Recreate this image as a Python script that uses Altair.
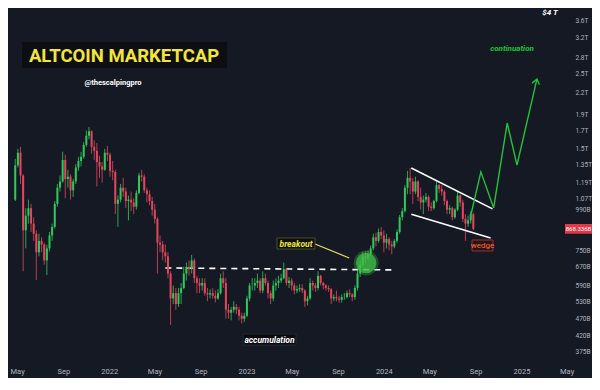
import altair as alt
import pandas as pd

# ---------------- data (weekly candles, values in billions USD) ----------------
first_open = 1060
close = [1340, 1460, 1250, 860, 950, 1000, 900, 840, 740, 800,
         780, 700, 760, 830, 880, 1030, 1150, 1200, 1390, 1220,
         1240, 1130, 1200, 1320, 1380, 1420, 1540, 1640, 1690, 1520,
         1480, 1370, 1330, 1300, 1460, 1440, 1290, 1280, 1030, 1060,
         1150, 1120, 1050, 1060, 1040, 1010, 1110, 1250, 1240, 1130,
         1100, 1050, 990, 930, 790, 780, 740, 720, 640, 540,
         560, 520, 560, 580, 640, 670, 660, 700, 620, 600,
         590, 600, 560, 555, 560, 550, 540, 560, 620, 600,
         500, 490, 500, 510, 500, 480, 470, 480, 540, 590,
         590, 600, 610, 570, 620, 600, 560, 540, 590, 600,
         610, 620, 660, 600, 610, 590, 570, 575, 580, 570,
         530, 540, 600, 590, 580, 630, 600, 590, 580, 575,
         540, 545, 540, 535, 545, 545, 560, 555, 545, 580,
         640, 680, 720, 710, 730, 760, 820, 800, 850, 830,
         790, 810, 780, 770, 800, 850, 940, 980, 1150, 1230,
         1200, 1120, 1200, 1080, 1040, 1060, 1080, 1010, 1000, 1050,
         1170, 1140, 1120, 1050, 990, 1000, 940, 990, 1090, 1040,
         930, 900, 920, 960, 868.336]
high = [1400, 1500, 1520, 1260, 1000, 1060, 1030, 940, 860, 840,
        820, 790, 780, 850, 900, 1050, 1180, 1250, 1470, 1440,
        1300, 1260, 1220, 1350, 1420, 1470, 1570, 1700, 1740, 1700,
        1590, 1560, 1430, 1370, 1500, 1530, 1460, 1380, 1300, 1090,
        1180, 1230, 1150, 1090, 1120, 1070, 1130, 1270, 1300, 1260,
        1150, 1130, 1080, 1030, 940, 830, 800, 780, 740, 650,
        590, 580, 580, 600, 670, 690, 700, 727, 710, 630,
        620, 620, 620, 580, 575, 580, 570, 575, 640, 650,
        620, 520, 510, 530, 520, 510, 490, 490, 550, 600,
        620, 620, 640, 620, 650, 640, 610, 570, 610, 620,
        630, 640, 690, 665, 625, 620, 600, 590, 595, 595,
        575, 550, 620, 610, 600, 650, 635, 605, 595, 590,
        580, 555, 570, 550, 555, 560, 570, 575, 560, 590,
        655, 700, 740, 745, 750, 775, 840, 845, 870, 880,
        860, 840, 820, 800, 810, 865, 955, 1000, 1170, 1290,
        1315, 1230, 1240, 1210, 1150, 1090, 1110, 1090, 1040, 1060,
        1200, 1180, 1170, 1130, 1060, 1020, 1010, 1000, 1120, 1100,
        1060, 960, 950, 980, 970]
low = [1050, 1320, 1180, 650, 760, 900, 850, 800, 613, 720,
       740, 680, 634, 745, 800, 870, 1010, 1120, 1190, 1070,
       1150, 1060, 1080, 1180, 1290, 1330, 1400, 1520, 1600, 1450,
       1390, 1160, 1230, 1190, 1290, 1380, 1240, 1210, 960, 880,
       1040, 1080, 1000, 920, 980, 960, 990, 1100, 1200, 1110,
       1040, 1020, 950, 900, 640, 740, 700, 690, 620, 451,
       520, 500, 510, 520, 575, 610, 630, 640, 600, 560,
       560, 570, 550, 530, 540, 540, 525, 535, 555, 580,
       470, 470, 465, 490, 485, 465, 455, 460, 475, 530,
       570, 570, 580, 560, 560, 590, 540, 520, 530, 570,
       580, 600, 615, 590, 580, 570, 555, 560, 565, 560,
       510, 515, 535, 570, 565, 570, 590, 575, 570, 565,
       520, 530, 530, 525, 525, 535, 540, 545, 530, 535,
       570, 625, 670, 690, 700, 720, 750, 770, 790, 810,
       740, 760, 750, 730, 760, 790, 840, 920, 970, 1100,
       1100, 1030, 1100, 1050, 990, 960, 1040, 980, 980, 990,
       1040, 1110, 1090, 1020, 960, 960, 920, 930, 980, 1010,
       910, 800, 880, 900, 860]

y_ticks = [3600, 3200, 2800, 2500, 2200, 1900, 1700, 1500, 1350, 1190,
           1070, 990, 750, 670, 590, 530, 470, 420, 375]
x_ticks = ["2021-05-01", "2021-09-01", "2022-01-01", "2022-05-01", "2022-09-01",
           "2023-01-01", "2023-05-01", "2023-09-01", "2024-01-01", "2024-05-01",
           "2024-09-01", "2025-01-01", "2025-05-01"]
last_price = 868.336

support_dates = ["2022-05-30", "2024-01-30"]
support_vals = [665, 656]
wedge_up_dates = ["2024-03-14", "2024-10-16"]
wedge_up_vals = [1315, 995]
wedge_lo_dates = ["2024-03-14", "2024-10-11"]
wedge_lo_vals = [960, 816]
cont_dates = ["2024-08-20", "2024-09-15", "2024-10-19", "2024-11-24", "2024-12-20", "2025-02-11"]
cont_vals = [960, 1281, 1002, 1788, 1342, 2414]
breakout_dates = ["2023-07-02", "2023-10-01"]
breakout_vals = [783, 712]
circle_date = ["2023-11-15"]
circle_val = [688]

# ---------------- build ----------------
def ms(s):
    return int(pd.Timestamp(s, tz="UTC").value // 10**6)

dates = pd.date_range("2021-04-26", periods=len(close), freq="7D").strftime("%Y-%m-%d")
opens = [first_open] + close[:-1]
df = pd.DataFrame({"date": dates, "open": opens, "high": high, "low": low, "close": close})
df["dir"] = ["up" if c >= o else "down" for o, c in zip(opens, close)]

GREEN = "#2ec95a"
RED = "#e2475c"
BG = "#151924"
LABEL = "#b2b5be"

xscale = alt.Scale(type="utc", domain=[ms("2021-04-20"), ms("2025-05-02")])
yscale = alt.Scale(type="log", domain=[350, 3920])
xaxis = alt.Axis(values=[ms(d) for d in x_ticks],
                 labelExpr="utcFormat(datum.value, '%m') == '01' ? utcFormat(datum.value, '%Y') : utcFormat(datum.value, '%b')",
                 labelColor=LABEL, labelFontSize=7.5, labelFont="Roboto", labelPadding=5,
                 ticks=False, domain=False, grid=False, title=None)
yaxis = alt.Axis(orient="right", values=y_ticks,
                 labelExpr="datum.value >= 1000 ? format(datum.value / 1000, '~g') + 'T' : format(datum.value, 'd') + 'B'",
                 labelColor=LABEL, labelFontSize=6.5, labelFont="Roboto", labelPadding=3,
                 ticks=False, domain=False, grid=False, title=None)

X = alt.X("date:T", scale=xscale, axis=xaxis, title=None)

def Y(field):
    return alt.Y(field, scale=yscale, axis=yaxis, title=None)

color = alt.Color("dir:N", scale=alt.Scale(domain=["up", "down"], range=[GREEN, RED]), legend=None)

base = alt.Chart(df).encode(x=X, color=color)
wicks = base.mark_rule(strokeWidth=1, opacity=0.8).encode(y=Y("low:Q"), y2="high:Q")
bodies = base.mark_bar(size=2).encode(y=Y("open:Q"), y2="close:Q")


def path(dts, vals, **kw):
    d = pd.DataFrame({"date": dts, "value": vals})
    return alt.Chart(d).mark_line(**kw).encode(x=X, y=Y("value:Q"))

support = path(support_dates, support_vals, color="white", strokeWidth=1.6, strokeDash=[6, 5])
wedge_up = path(wedge_up_dates, wedge_up_vals, color="white", strokeWidth=1.6)
wedge_lo = path(wedge_lo_dates, wedge_lo_vals, color="white", strokeWidth=1.6)
cont = path(cont_dates, cont_vals, color="#22c43a", strokeWidth=1.4)
breakout_line = path(breakout_dates, breakout_vals, color="#e6dc5c", strokeWidth=1.2)

arrow = alt.Chart(pd.DataFrame({"date": cont_dates[-1:], "value": cont_vals[-1:]})).mark_point(
    shape="M-0.6,0.8L0,0L0.6,0.8", filled=False, stroke="#22c43a", strokeWidth=1.4,
    size=160, angle=13, opacity=1).encode(x=X, y=Y("value:Q"))

cdf = pd.DataFrame({"date": circle_date, "value": circle_val})
glow = alt.Chart(cdf).mark_circle(size=620, color="#3ec84a", opacity=0.3).encode(x=X, y=Y("value:Q"))
circle = alt.Chart(cdf).mark_circle(size=420, color="#3fbf45", opacity=0.75).encode(x=X, y=Y("value:Q"))

one = pd.DataFrame({"k": [0]})


def box(x1, x2, y1, y2, fill, stroke=None, sw=0.8):
    kw = dict(fill=fill)
    if stroke:
        kw.update(stroke=stroke, strokeWidth=sw)
    return alt.Chart(one).mark_rect(**kw).encode(
        x=alt.value(x1), x2=alt.value(x2), y=alt.value(y1), y2=alt.value(y2))


def label(txt, x, y, color, size, font="Roboto", style="italic", weight="bold", align="center"):
    return alt.Chart(one).mark_text(text=txt, color=color, fontSize=size, font=font,
                                    fontStyle=style, fontWeight=weight, align=align,
                                    baseline="middle").encode(x=alt.value(x), y=alt.value(y))

title_box = box(14, 219, 34, 60, "#0c0e14")
title = label("ALTCOIN MARKETCAP", 116, 47.5, "#f3e53a", 18.5, font="Roboto", style="normal")
handle = label("@thescalpingpro", 105, 75, "white", 7.5, style="normal")
cap = label("$4 T", 542, 4.5, "white", 8)
cont_txt = label("continuation", 504, 41, "#22c43a", 8)
brk_box = box(269, 307, 230, 241, "#0d0f13", "#5c5a2c")
brk_txt = label("breakout", 288, 235.5, "#f0e23c", 8.5)
acc_box = box(235, 288, 326, 337, "#090b0f", "#2a2d36")
acc_txt = label("accumulation", 261.5, 331.5, "white", 8.5)
wdg_box = box(464, 485, 232, 243, "#2a1418", "#b33a3a")
wdg_txt = label("wedge", 474.5, 237.5, "#ff6a3d", 8, style="normal", weight="normal")

pdf = pd.DataFrame({"value": [last_price]})
price_box = alt.Chart(pdf).mark_point(shape="M-1,-0.36L1,-0.36L1,0.36L-1,0.36Z", size=729,
                                      filled=True, color="#e0394a", opacity=1).encode(
    x=alt.value(570.5), y=Y("value:Q"))
price_txt = alt.Chart(pdf).mark_text(text="868.336B", color="white", fontSize=6, font="Roboto",
                                     align="center", baseline="middle").encode(
    x=alt.value(570.5), y=Y("value:Q"))

chart = alt.layer(
    title_box, title, handle, cap,
    support, wicks, bodies, glow, circle,
    wedge_up, wedge_lo, cont, arrow, breakout_line,
    brk_box, brk_txt, acc_box, acc_txt, wdg_box, wdg_txt, cont_txt,
    price_box, price_txt,
).properties(
    width=564, height=354, background=BG,
    padding={"left": 0, "top": 0, "right": 20, "bottom": 16},
    autosize=alt.AutoSizeParams(type="none"),
).configure_view(stroke=None)

chart.save("out.html", embed_options={"renderer": "svg", "actions": False})
